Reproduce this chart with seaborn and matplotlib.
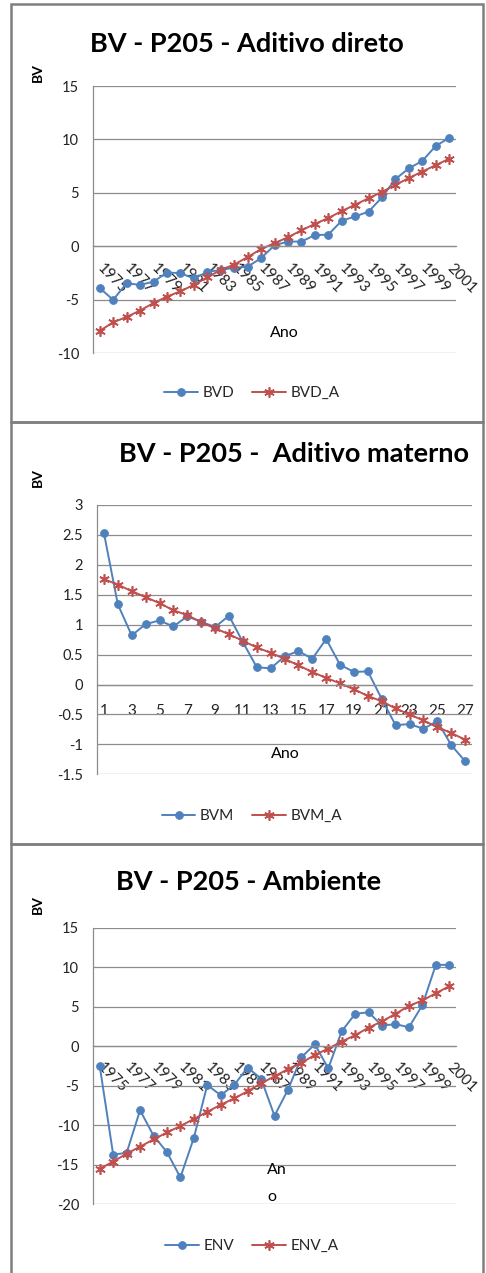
import matplotlib
matplotlib.use("Agg")
import matplotlib.pyplot as plt
import seaborn as sns
import pandas as pd
from matplotlib.patches import Rectangle

# ---------------- data ----------------
years = [1975, 1976, 1977, 1978, 1979, 1980, 1981, 1982, 1983, 1984, 1985, 1986, 1987, 1988,
         1989, 1990, 1991, 1992, 1993, 1994, 1995, 1996, 1997, 1998, 1999, 2000, 2001]
index_labels = [1, 2, 3, 4, 5, 6, 7, 8, 9, 10, 11, 12, 13, 14, 15, 16, 17, 18, 19, 20,
                21, 22, 23, 24, 25, 26, 27]

bvd = [-3.9, -5.0, -3.45, -3.6, -3.3, -2.45, -2.5, -3.0, -2.4, -2.2, -2.0, -1.9, -1.1, 0.1,
       0.45, 0.45, 1.05, 1.1, 2.4, 2.8, 3.25, 4.6, 6.3, 7.3, 8.0, 9.4, 10.15]
bvd_a = [-7.9, -7.1, -6.6, -6.0, -5.3, -4.7, -4.2, -3.6, -2.9, -2.2, -1.7, -1.0, -0.25, 0.3,
         0.85, 1.5, 2.1, 2.65, 3.3, 3.9, 4.5, 5.1, 5.75, 6.4, 7.0, 7.6, 8.2]

bvm = [2.53, 1.34, 0.82, 1.01, 1.07, 0.97, 1.14, 1.05, 0.96, 1.15, 0.71, 0.29, 0.27, 0.47,
       0.56, 0.43, 0.76, 0.33, 0.21, 0.22, -0.24, -0.68, -0.66, -0.74, -0.61, -1.01, -1.28]
bvm_a = [1.76, 1.67, 1.56, 1.46, 1.36, 1.24, 1.16, 1.04, 0.94, 0.84, 0.73, 0.62, 0.53, 0.43,
         0.32, 0.21, 0.11, 0.02, -0.08, -0.19, -0.28, -0.40, -0.50, -0.60, -0.71, -0.81, -0.92]

env = [-2.5, -13.7, -13.5, -8.1, -11.3, -13.4, -16.6, -11.6, -4.9, -6.2, -4.9, -2.7, -4.1, -8.8,
       -5.5, -1.4, 0.25, -2.8, 1.9, 4.1, 4.3, 2.6, 2.8, 2.4, 5.2, 10.3, 10.3]
env_a = [-15.5, -14.6, -13.6, -12.7, -11.8, -10.9, -10.1, -9.2, -8.3, -7.4, -6.6, -5.7, -4.7, -3.8,
         -2.9, -2.1, -1.1, -0.3, 0.6, 1.4, 2.35, 3.15, 4.1, 5.1, 5.8, 6.7, 7.6]

yt_1 = [-10, -5, 0, 5, 10, 15]
yt_1_labels = ["-10", "-5", "0", "5", "10", "15"]
yt_2 = [-1.5, -1.0, -0.5, 0.0, 0.5, 1.0, 1.5, 2.0, 2.5, 3.0]
yt_2_labels = ["-1.5", "-1", "-0.5", "0", "0.5", "1", "1.5", "2", "2.5", "3"]
yt_3 = [-20, -15, -10, -5, 0, 5, 10, 15]
yt_3_labels = ["-20", "-15", "-10", "-5", "0", "5", "10", "15"]

titles = ["BV - P205 - Aditivo direto", "BV - P205 -  Aditivo materno", "BV - P205 - Ambiente"]

# ---------------- style ----------------
sns.set_theme(style="white")
plt.rcParams["font.family"] = ["Lato", "DejaVu Sans"]
plt.rcParams["axes.unicode_minus"] = False

BLUE = "#4F81BD"
RED = "#C0504D"
GRID = "#8C8C8C"
BORDER = "#7F7F7F"

W, H = 486, 1273
fig = plt.figure(figsize=(W / 100, H / 100), dpi=100)
fig.patch.set_facecolor("white")


def fx(x):
    return x / W


def fy(y):
    return 1 - y / H


def add_ax(l, r, t, b):
    return fig.add_axes([fx(l), fy(b), (r - l) / W, (b - t) / H])


def panel(ax, xlabels, s1, s2, n1, n2, ylim, yt, ytl, rotate, pad):
    df = pd.DataFrame({"pos": list(range(len(s1))), n1: s1, n2: s2})
    sns.lineplot(data=df, x="pos", y=n1, ax=ax, color=BLUE, marker="o", markersize=5.5,
                 markeredgecolor=BLUE, linewidth=1.4, label=n1)
    sns.lineplot(data=df, x="pos", y=n2, ax=ax, color=RED, marker=(6, 2, 0), markersize=7.5,
                 markeredgecolor=RED, markeredgewidth=1.2, linewidth=1.4, label=n2)
    # spine position first (it resets ticks)
    for s in ["top", "right"]:
        ax.spines[s].set_visible(False)
    ax.spines["bottom"].set_position(("data", 0))
    ax.spines["left"].set_color(GRID)
    ax.spines["left"].set_linewidth(0.9)
    ax.spines["bottom"].set_color(GRID)
    ax.spines["bottom"].set_linewidth(0.9)

    ax.set_xlim(-0.5, len(s1) - 0.5)
    ax.set_ylim(*ylim)
    ax.set_yticks(yt)
    ax.set_yticklabels(ytl, fontsize=10.5, color="#222222")
    pos = list(range(0, len(s1), 2))
    ax.set_xticks(pos)
    labs = [str(xlabels[i]) for i in pos]
    ax.tick_params(axis="x", length=0, pad=pad)
    ax.tick_params(axis="y", length=0, pad=10)
    if rotate:
        ax.set_xticklabels(labs, rotation=-45, ha="left", va="center", rotation_mode="anchor",
                           fontsize=11, color="#222222")
    else:
        ax.set_xticklabels(labs, ha="center", va="center", fontsize=11, color="#222222")
    ax.set_xlabel("")
    ax.set_ylabel("")
    ax.grid(axis="y", color=GRID, linewidth=0.9)
    ax.grid(axis="x", visible=False)
    ax.set_axisbelow(True)
    ax.patch.set_alpha(0)
    h, l = ax.get_legend_handles_labels()
    ax.legend_.remove()
    return h, l


# panel frames
fig.add_artist(Rectangle((fx(11), fy(422)), (483 - 11) / W, (422 - 4) / H, transform=fig.transFigure,
                         fill=False, ec=BORDER, lw=1.8))
fig.add_artist(Rectangle((fx(11), fy(844)), (483 - 11) / W, (844 - 422) / H, transform=fig.transFigure,
                         fill=False, ec=BORDER, lw=1.8))
fig.add_artist(Rectangle((fx(11), fy(1290)), (483 - 11) / W, (1290 - 844) / H, transform=fig.transFigure,
                         fill=False, ec=BORDER, lw=1.8))

# panel 1
ax1 = add_ax(93, 456, 86, 353.3)
h1, l1 = panel(ax1, years, bvd, bvd_a, "BVD", "BVD_A", (-10, 15), yt_1, yt_1_labels, True, 14)
# panel 2
ax2 = add_ax(97, 472, 505, 774.3)
h2, l2 = panel(ax2, index_labels, bvm, bvm_a, "BVM", "BVM_A", (-1.5, 3), yt_2, yt_2_labels, False, 19)
# panel 3
ax3 = add_ax(93, 456, 927.7, 1204.3)
h3, l3 = panel(ax3, years, env, env_a, "ENV", "ENV_A", (-20, 15), yt_3, yt_3_labels, True, 13.5)

# titles
fig.text(fx(247), fy(44), titles[0], ha="center", va="center", fontsize=19.5, fontweight="bold", color="black")
fig.text(fx(294), fy(454), titles[1], ha="center", va="center", fontsize=19.5, fontweight="bold", color="black")
fig.text(fx(249), fy(882), titles[2], ha="center", va="center", fontsize=19.5, fontweight="bold", color="black")

# y labels
for yy in [73, 478, 905]:
    fig.text(fx(38), fy(yy), "BV", rotation=90, ha="center", va="center", fontsize=10,
             fontweight="bold", color="black")

# x axis titles
fig.text(fx(284), fy(333), "Ano", ha="center", va="center", fontsize=11.5, color="black")
fig.text(fx(285), fy(754), "Ano", ha="center", va="center", fontsize=11.5, color="black")
fig.text(fx(277), fy(1170), "An", ha="center", va="center", fontsize=11.5, color="black")
fig.text(fx(272), fy(1197), "o", ha="center", va="center", fontsize=11.5, color="black")

# legends
for (h, l, yy) in [(h1, l1, 393), (h2, l2, 816), (h3, l3, 1246)]:
    fig.legend(h, l, loc="center", bbox_to_anchor=(fx(252), fy(yy)), ncol=2, frameon=False,
               fontsize=11, handlelength=2.2, columnspacing=1.2, handletextpad=0.3,
               bbox_transform=fig.transFigure)

fig.savefig("out.png", dpi=100, facecolor="white")
